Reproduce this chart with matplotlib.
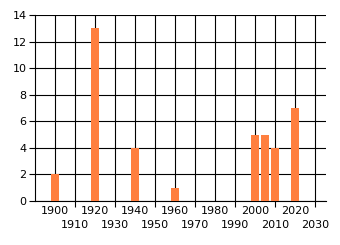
import matplotlib
matplotlib.use("Agg")
import matplotlib.pyplot as plt

years = [1900, 1920, 1940, 1960, 2000, 2005, 2010, 2020]
counts = [2, 13, 4, 1, 5, 5, 4, 7]
row1_ticks = [1900, 1920, 1940, 1960, 1980, 2000, 2020]
row2_ticks = [1910, 1930, 1950, 1970, 1990, 2010, 2030]
y_ticks = [0, 2, 4, 6, 8, 10, 12, 14]

plt.rcParams['font.family'] = ['DejaVu Sans']
fig = plt.figure(figsize=(3.4, 2.45), dpi=100)
ax = fig.add_axes([35/340, 44/245, (326-35)/340, (201-15)/245])

ax.bar(years, counts, width=4, color='#FF7F3F', zorder=3)
ax.set_xlim(1890, 2035.5)
ax.set_ylim(0, 14)

ax.set_xticks(row1_ticks)
ax.set_xticks(row2_ticks, minor=True)
ax.set_xticklabels([str(t) for t in row1_ticks])
ax.set_xticklabels([str(t) for t in row2_ticks], minor=True)
ax.set_yticks(y_ticks)

ax.tick_params(axis='x', which='major', length=0, pad=3.5, labelsize=8, colors='black')
ax.tick_params(axis='x', which='minor', length=4, width=0.8, pad=10, labelsize=8, colors='black')
ax.tick_params(axis='y', length=4, width=0.8, pad=2, labelsize=8, colors='black')

ax.grid(True, which='both', color='black', linewidth=0.8, zorder=1)
ax.set_axisbelow(True)
for s in ['top', 'right']:
    ax.spines[s].set_visible(False)
for s in ['left', 'bottom']:
    ax.spines[s].set_linewidth(0.8)

fig.savefig('out.png', dpi=100)
